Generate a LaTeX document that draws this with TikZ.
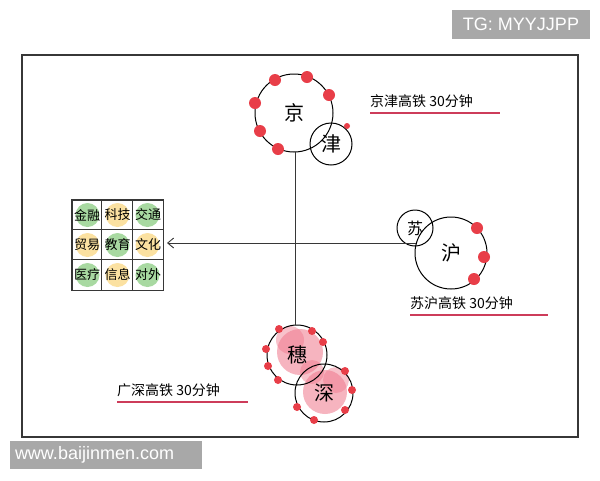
\documentclass[tikz,border=0pt]{standalone}
\usepackage{fontspec}
\setmainfont{Liberation Sans}
\newfontfamily\cjk{Noto Sans CJK SC}
\usetikzlibrary{arrows.meta}
\definecolor{framec}{RGB}{55,55,55}
\definecolor{dotred}{RGB}{232,62,72}
\definecolor{ulred}{RGB}{205,60,90}
\definecolor{gbox}{RGB}{168,168,168}
\definecolor{gcell}{RGB}{140,205,130}
\definecolor{ycell}{RGB}{250,215,130}
\definecolor{pinkf}{RGB}{240,120,140}
\tikzset{
  city/.style={circle,draw=black,line width=1pt,inner sep=0pt,font=\cjk\fontsize{20}{20}\selectfont},
  reddot/.style={circle,fill=dotred,inner sep=0pt,minimum size=#1},
  note/.style={font=\cjk\fontsize{14}{14}\selectfont,inner sep=0pt},
  uline/.style={draw=ulred,line width=1.2pt},
  cell/.style={font=\cjk\fontsize{13}{13}\selectfont,inner sep=0pt},
  wm/.style={fill=gbox,text=white,inner sep=0pt,font=\fontsize{18}{18}\selectfont},
  conn/.style={draw=framec,line width=0.9pt}
}
\begin{document}
\begin{tikzpicture}[x=1pt,y=-1pt]
\useasboundingbox (0,0) rectangle (600,480);
\fill[white] (0,0) rectangle (600,480);
% frame
\node[draw=framec,line width=1.8pt,minimum width=556pt,minimum height=382pt,inner sep=0pt] (frame) at (300,246) {};
% watermarks
\node[wm,minimum width=138pt,minimum height=29pt] (tg) at (521,24.5) {TG: MYYJJPP};
\node[wm,minimum width=192pt,minimum height=28pt,text width=182pt,align=left] (www) at (106,455) {www.baijinmen.com};

% pink fill for Guangzhou / Shenzhen
\fill[pinkf,opacity=0.55] (300,352) circle (23pt);
\fill[pinkf,opacity=0.45] (290,340) circle (14pt);
\fill[pinkf,opacity=0.55] (325,392) circle (22pt);
\fill[pinkf,opacity=0.45] (336,380) circle (13pt);
\fill[pinkf,opacity=0.45] (312,372) circle (12pt);

% city circles
\node[city,minimum size=78pt] (jing) at (294,113) {京};
\node[city,minimum size=42pt] (jin) at (331,144) {\raisebox{-5pt}{津}};
\node[city,minimum size=72pt] (hu) at (451,253) {沪};
\node[city,minimum size=36pt,font=\cjk\fontsize{16}{16}\selectfont] (su) at (415,228) {苏};
\node[city,minimum size=60pt] (sui) at (297,355) {穗};
\node[city,minimum size=58pt] (shen) at (324,393) {\raisebox{-2pt}{深}};

% red dots
\foreach \p in {(275,80),(307,77),(329,95),(255,103),(260,131),(278,149)} \node[reddot=12pt] at \p {};
\node[reddot=6pt] at (347,126) {};
\foreach \p in {(477,228),(484,257),(474,279)} \node[reddot=12pt] at \p {};
\foreach \p in {(279,329),(312,331),(323,342),(266,349),(268,366),(278,380)} \node[reddot=8pt] at \p {};
\foreach \p in {(345,371),(352,390),(345,410),(314,420),(297,407)} \node[reddot=8pt] at \p {};

% grid
\node[draw=framec,line width=1pt,minimum width=91pt,minimum height=90pt,inner sep=0pt] (grid) at (117.5,245) {};
\foreach \cx/\cy/\cc in {102.5/215/gcell,132.5/215/ycell,162.5/215/gcell,102.5/245/ycell,132.5/245/gcell,162.5/245/ycell,102.5/275/gcell,132.5/275/ycell,162.5/275/gcell}
  \fill[\cc,opacity=0.75] (\cx-15,\cy) circle (12pt);
\draw[framec,line width=1pt] (grid.north west) ++(30.3,0) -- ++(0,90) (grid.north west) ++(60.7,0) -- ++(0,90)
  (grid.north west) ++(0,30) -- ++(91,0) (grid.north west) ++(0,60) -- ++(91,0);
\draw[framec,line width=1pt] (grid.north west) rectangle (grid.south east);
\node[cell] (c11) at (87,215) {金融};
\node[cell] (c12) at (117.5,215) {科技};
\node[cell] (c13) at (148,215) {交通};
\node[cell] (c21) at (87,245) {贸易};
\node[cell] (c22) at (117.5,245) {教育};
\node[cell] (c23) at (148,245) {文化};
\node[cell] (c31) at (87,275) {医疗};
\node[cell] (c32) at (117.5,275) {信息};
\node[cell] (c33) at (148,275) {对外};

% connectors
\coordinate (vtop) at (295,152);
\coordinate (vbot) at (295,325);
\draw[conn] (vtop) -- (vbot);
\coordinate (astart) at (416,243);
\coordinate (aend) at (167,243);
\draw[conn,-{Straight Barb[length=6pt,width=10pt]}] (astart) -- (aend);

% notes
\node[note,anchor=south west] (n1) at (370,108) {京津高铁 30分钟};
\draw[uline] (n1.south west) ++(0,5) -- ++(130,0);
\node[note,anchor=south west] (n2) at (410,310) {苏沪高铁 30分钟};
\draw[uline] (n2.south west) ++(0,5) -- ++(138,0);
\node[note,anchor=south west] (n3) at (117,397) {广深高铁 30分钟};
\draw[uline] (n3.south west) ++(0,5) -- ++(131,0);
\end{tikzpicture}
\end{document}
